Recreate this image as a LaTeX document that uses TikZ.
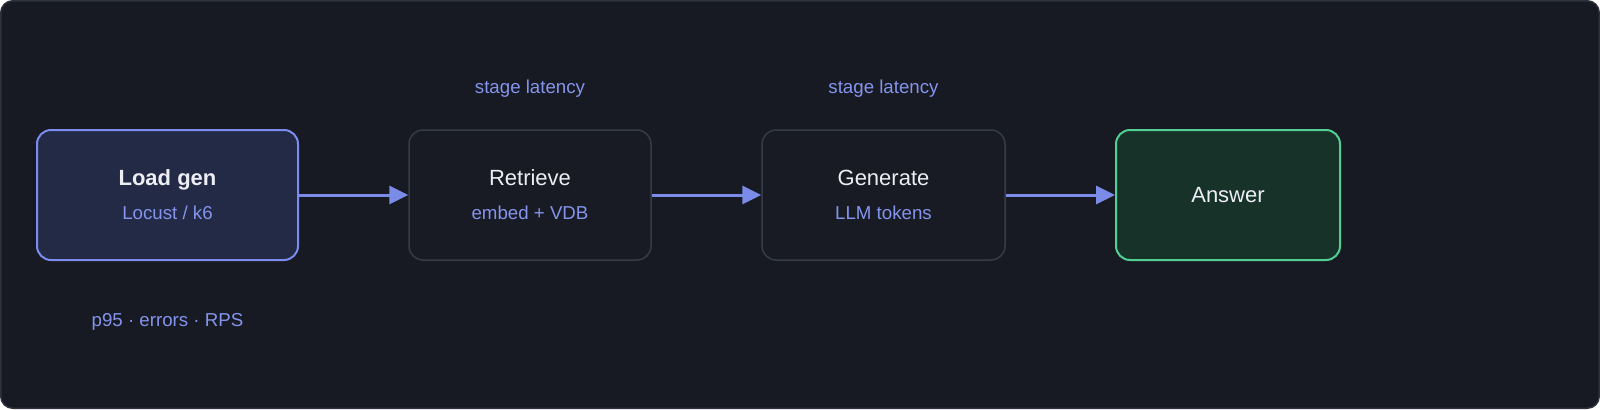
\documentclass[tikz,border=0pt]{standalone}
\usepackage{fontspec}
\setmainfont{Liberation Sans}
\usetikzlibrary{arrows.meta,positioning}

\definecolor{bgdark}{HTML}{171A22}
\definecolor{frameedge}{HTML}{2E323C}
\definecolor{stagefill}{HTML}{181B24}
\definecolor{stageedge}{HTML}{373B48}
\definecolor{loadfill}{HTML}{232A45}
\definecolor{loadedge}{HTML}{7C8CEE}
\definecolor{answerfill}{HTML}{173229}
\definecolor{answeredge}{HTML}{52CF93}
\definecolor{flowblue}{HTML}{7B8CE8}
\definecolor{subblue}{HTML}{8494EC}
\definecolor{titlewhite}{HTML}{ECEEF4}

\begin{document}
\begin{tikzpicture}[x=0.5pt, y=-0.5pt]
        \tikzstyle{every node}=[font=\fontsize{9.35}{17}\selectfont, text=subblue]
        \tikzstyle{stage}=[draw=stageedge, fill=stagefill, line width=0.75pt, rounded corners=7pt, minimum height=65pt, inner sep=0pt, align=center]
        \tikzstyle{title}=[font=\fontsize{11}{17}\selectfont]
        \tikzstyle{flow}=[draw=flowblue, line width=1.5pt, -{Triangle[length=9.5pt, width=9pt]}]
        \useasboundingbox (0,0) rectangle (1600,409);
        \draw [fill=bgdark, draw=frameedge, line width=0.75pt, rounded corners=6pt] (0.75,0.75) rectangle (1599.25,408.25);
        \node [stage, fill=loadfill, draw=loadedge, line width=1pt, minimum width=130.5pt] (loadgen) at (167.5,195) {{\fontsize{11}{17}\selectfont\bfseries\color{titlewhite}Load gen}\\Locust / k6};
        \node [stage, minimum width=121pt] (retrieve) at (530,195) {{\fontsize{11}{17}\selectfont\color{titlewhite}Retrieve}\\embed + VDB};
        \node [stage, minimum width=121.5pt] (generate) at (883.5,195) {{\fontsize{11}{17}\selectfont\color{titlewhite}Generate}\\LLM tokens};
        \node [stage, title, fill=answerfill, draw=answeredge, line width=1pt, minimum width=112pt, text=titlewhite] (answer) at (1228,195) {Answer};
        \node [above=12.5pt of retrieve] (retrievelat) {stage latency};
        \node [above=12.5pt of generate] (generatelat) {stage latency};
        \node [below=22.5pt of loadgen] (loadmetrics) {p95 · errors · RPS};
        \draw [flow] (loadgen) -- (retrieve);
        \draw [flow] (retrieve) -- (generate);
        \draw [flow] (generate) -- (answer);
    \end{tikzpicture}
\end{document}
